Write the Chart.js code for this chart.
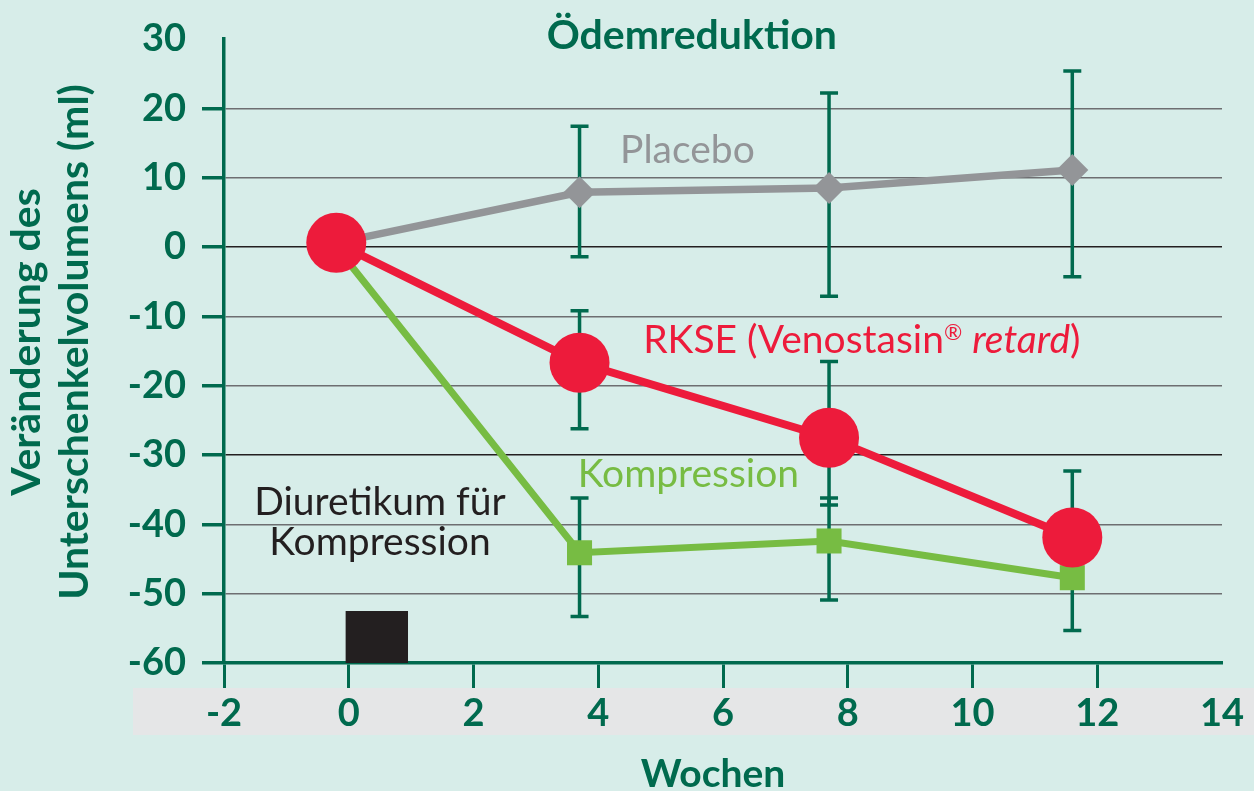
<!DOCTYPE html>
<html lang="de">
<head>
<meta charset="utf-8">
<title>Ödemreduktion</title>
<script src="https://cdn.jsdelivr.net/npm/chart.js@4.4.1/dist/chart.umd.min.js"></script>
<style>
  html, body { margin: 0; padding: 0; background: #d7ede9; }
  #wrap { width: 1254px; height: 791px; }
</style>
</head>
<body>
<div id="wrap"><canvas id="chart" width="1254" height="791"></canvas></div>
<script>
// values
const weeks = [-0.2, 3.7, 7.7, 11.6];
const placebo = [0.6, 7.9, 8.5, 11.1];
const placeboHigh = [null, 17.4, 22.2, 25.4];
const placeboLow = [null, -1.4, -7.1, -4.3];
const rkse = [0.6, -16.7, -27.5, -41.9];
const rkseHigh = [null, -9.2, -16.5, -32.3];
const rkseLow = [null, -26.2, -37.2, -49.0];
const kompression = [0, -44.1, -42.4, -47.7];
const kompressionHigh = [null, -36.2, -36.2, -40.0];
const kompressionLow = [null, -53.3, -50.9, -55.3];
const xTicks = [-2, 0, 2, 4, 6, 8, 10, 12, 14];
const yTicks = [30, 20, 10, 0, -10, -20, -30, -40, -50, -60];
const diuretikumWeeks = [-0.05, 0.95];
const diuretikumRange = [-60, -52.5];

const DARK = '#006a4e';
const RED = '#ed1b3b';
const GRAY = '#939598';
const LIME = '#77bc43';
const FONT = 'Lato, "Open Sans", sans-serif';

function toPoints(ys) {
    return weeks.map((w, i) => ({ x: w, y: ys[i] }));
}

const backdrop = {
    id: 'backdrop',
    beforeDraw(chart) {
        const { ctx, chartArea, width, height } = chart;
        ctx.save();
        ctx.fillStyle = '#d7ede9';
        ctx.fillRect(0, 0, width, height);
        ctx.fillStyle = '#e5e6e7';
        ctx.fillRect(133, chartArea.bottom + 25, width - 133, 47);
        ctx.restore();
    }
};

const errorBars = {
    id: 'errorBars',
    beforeDatasetsDraw(chart) {
        const { ctx, scales: { x, y } } = chart;
        ctx.save();
        ctx.strokeStyle = DARK;
        ctx.lineWidth = 3.5;
        const sets = [[placeboHigh, placeboLow], [rkseHigh, rkseLow], [kompressionHigh, kompressionLow]];
        sets.forEach(([hi, lo]) => {
            weeks.forEach((w, i) => {
                if (hi[i] == null) return;
                const px = x.getPixelForValue(w);
                const top = y.getPixelForValue(hi[i]);
                const bot = y.getPixelForValue(lo[i]);
                ctx.beginPath();
                ctx.moveTo(px, top);
                ctx.lineTo(px, bot);
                ctx.moveTo(px - 9, top);
                ctx.lineTo(px + 9, top);
                ctx.moveTo(px - 9, bot);
                ctx.lineTo(px + 9, bot);
                ctx.stroke();
            });
        });
        // Diuretikum block
        const x0 = x.getPixelForValue(diuretikumWeeks[0]);
        const x1 = x.getPixelForValue(diuretikumWeeks[1]);
        const y0 = y.getPixelForValue(diuretikumRange[0]);
        const y1 = y.getPixelForValue(diuretikumRange[1]);
        ctx.fillStyle = '#231f20';
        ctx.fillRect(x0, y1, x1 - x0, y0 - y1);
        ctx.restore();
    }
};

function drawRuns(ctx, runs, px, py) {
    let cx = px;
    runs.forEach(r => {
        ctx.font = r.font;
        ctx.fillText(r.text, cx, py + (r.dy || 0));
        cx += ctx.measureText(r.text).width;
    });
}

const labels = {
    id: 'labels',
    afterDraw(chart) {
        const { ctx, scales: { x, y } } = chart;
        ctx.save();
        ctx.textBaseline = 'alphabetic';

        // title
        ctx.fillStyle = DARK;
        ctx.textAlign = 'center';
        ctx.font = `bold 41px ${FONT}`;
        ctx.fillText('Ödemreduktion', x.getPixelForValue(5.5), 49);

        // x axis title
        ctx.font = `bold 39px ${FONT}`;
        ctx.fillText('Wochen', 713, 787);

        // y axis title
        ctx.save();
        ctx.translate(40, 342);
        ctx.rotate(-Math.PI / 2);
        ctx.font = `bold 41px ${FONT}`;
        ctx.fillText('Veränderung des', 0, 0);
        ctx.fillText('Unterschenkelvolumens (ml)', 0, 48);
        ctx.restore();

        // series labels
        ctx.textAlign = 'left';
        ctx.fillStyle = GRAY;
        ctx.font = `39px ${FONT}`;
        ctx.fillText('Placebo', x.getPixelForValue(4.35), y.getPixelForValue(12.1));

        ctx.fillStyle = RED;
        drawRuns(ctx, [
            { text: 'RKSE (Venostasin', font: `39px ${FONT}` },
            { text: '®', font: `22px ${FONT}`, dy: -13 },
            { text: ' ', font: `39px ${FONT}` },
            { text: 'retard', font: `italic 39px ${FONT}` },
            { text: ')', font: `39px ${FONT}` }
        ], x.getPixelForValue(4.72), y.getPixelForValue(-15.3));

        ctx.fillStyle = LIME;
        ctx.font = `39px ${FONT}`;
        ctx.fillText('Kompression', x.getPixelForValue(3.67), y.getPixelForValue(-34.6));

        ctx.fillStyle = '#231f20';
        ctx.textAlign = 'center';
        ctx.fillText('Diuretikum für', x.getPixelForValue(0.5), y.getPixelForValue(-38.6));
        ctx.fillText('Kompression', x.getPixelForValue(0.5), y.getPixelForValue(-44.4));
        ctx.restore();
    }
};

const ctx = document.getElementById('chart').getContext('2d');

const myChart = new Chart(ctx, {
    type: 'line',
    data: {
        datasets: [{
            label: 'RKSE (Venostasin® retard)',
            data: toPoints(rkse),
            borderColor: RED,
            backgroundColor: RED,
            borderWidth: 8,
            pointStyle: 'circle',
            pointRadius: 30,
            pointBorderWidth: 0,
            tension: 0
        }, {
            label: 'Kompression',
            data: toPoints(kompression),
            borderColor: LIME,
            backgroundColor: LIME,
            borderWidth: 7,
            pointStyle: 'rect',
            pointRadius: [0, 17.7, 17.7, 17.7],
            pointBorderWidth: 0,
            tension: 0
        }, {
            label: 'Placebo',
            data: toPoints(placebo),
            borderColor: GRAY,
            backgroundColor: GRAY,
            borderWidth: 7.5,
            pointStyle: 'rectRot',
            pointRadius: [0, 16, 16, 16],
            pointBorderWidth: 0,
            tension: 0
        }]
    },
    options: {
        responsive: false,
        animation: false,
        clip: false,
        layout: { padding: { top: 39, right: 32, left: 0, bottom: 0 } },
        plugins: {
            legend: { display: false },
            tooltip: { enabled: false },
            title: { display: false }
        },
        scales: {
            x: {
                type: 'linear',
                min: -2,
                max: 14,
                afterBuildTicks: scale => { scale.ticks = xTicks.map(v => ({ value: v })); },
                afterFit: scale => { scale.height = 128; },
                border: { color: DARK, width: 3.5 },
                grid: {
                    drawOnChartArea: false,
                    tickLength: 25,
                    tickWidth: 3,
                    tickColor: c => (c.tick && c.tick.value === 14) ? 'rgba(0,0,0,0)' : DARK
                },
                ticks: {
                    color: DARK,
                    font: { family: FONT, size: 38, weight: 'bold' },
                    padding: 3,
                    maxRotation: 0,
                    autoSkip: false
                }
            },
            y: {
                type: 'linear',
                min: -60,
                max: 30,
                afterBuildTicks: scale => { scale.ticks = yTicks.map(v => ({ value: v })); },
                afterFit: scale => { scale.width = 224; },
                border: { color: DARK, width: 3.5 },
                grid: {
                    color: c => {
                        const v = c.tick ? c.tick.value : null;
                        if (v === 30 || v === -60) return 'rgba(0,0,0,0)';
                        return (v === 0 || v === -30) ? '#231f20' : '#6d6e71';
                    },
                    lineWidth: 1.5,
                    tickLength: 22,
                    tickWidth: 3.5,
                    tickColor: c => (c.tick && c.tick.value === 30) ? 'rgba(0,0,0,0)' : DARK
                },
                ticks: {
                    color: DARK,
                    font: { family: FONT, size: 38, weight: 'bold' },
                    padding: 16,
                    autoSkip: false
                }
            }
        }
    },
    plugins: [backdrop, errorBars, labels]
});
</script>
</body>
</html>
